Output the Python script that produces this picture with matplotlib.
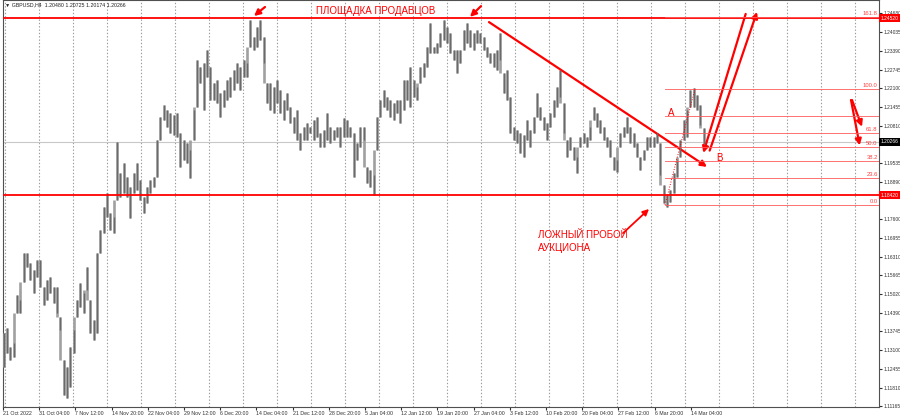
import numpy as np
import matplotlib.pyplot as plt
from matplotlib.transforms import blended_transform_factory

plt.rcParams['font.family'] = ['Liberation Sans', 'DejaVu Sans']

# H4 GBPUSD, high / low of each (grouped) bar
hi = [1.1369, 1.1386, 1.1320, 1.1334, 1.1499, 1.1482, 1.1644, 1.1644, 1.1609, 1.1585,
      1.1620, 1.1620, 1.1527, 1.1551, 1.1561, 1.1527, 1.1527, 1.1424, 1.1276, 1.1252,
      1.1320, 1.1379, 1.1482, 1.1541, 1.1506, 1.1596, 1.1482, 1.1413, 1.1644, 1.1723,
      1.1802, 1.1850, 1.1781, 1.1768, 1.2026, 1.1919, 1.1953, 1.1905, 1.1871, 1.1919,
      1.1953, 1.1895, 1.1836, 1.1871, 1.1895, 1.1905, 1.2032, 1.2112, 1.2153, 1.2135,
      1.2125, 1.2118, 1.2125, 1.2057, 1.2032, 1.2022, 1.1998, 1.2135, 1.2308, 1.2284,
      1.2297, 1.2342, 1.2284, 1.2228, 1.2239, 1.2194, 1.2204, 1.2239, 1.2249, 1.2273,
      1.2297, 1.2284, 1.2308, 1.2297, 1.2445, 1.2387, 1.2421, 1.2445, 1.2387, 1.2228,
      1.2228, 1.2215, 1.2239, 1.2204, 1.2170, 1.2194, 1.2146, 1.2112, 1.2135, 1.2057,
      1.2077, 1.2091, 1.2077, 1.2101, 1.2112, 1.2057, 1.2067, 1.2125, 1.2077, 1.2067,
      1.2077, 1.2077, 1.2108, 1.2101, 1.2077, 1.2057, 1.2022, 1.2077, 1.2077, 1.1940,
      1.1929, 1.1912, 1.2112, 1.2170, 1.2204, 1.2180, 1.2170, 1.2160, 1.2170, 1.2170,
      1.2239, 1.2239, 1.2284, 1.2239, 1.2215, 1.2284, 1.2297, 1.2352, 1.2435, 1.2352,
      1.2366, 1.2400, 1.2445, 1.2421, 1.2400, 1.2342, 1.2342, 1.2342, 1.2411, 1.2435,
      1.2411, 1.2400, 1.2411, 1.2400, 1.2387, 1.2352, 1.2332, 1.2332, 1.2342, 1.2400,
      1.2263, 1.2273, 1.2180, 1.2077, 1.2067, 1.2057, 1.2050, 1.2101, 1.2067, 1.2112,
      1.2194, 1.2146, 1.2112, 1.2091, 1.2125, 1.2170, 1.2215, 1.2273, 1.2160, 1.2032,
      1.2043, 1.2008, 1.1974, 1.2043, 1.2057, 1.2043, 1.2077, 1.2146, 1.2125, 1.2101,
      1.2077, 1.2043, 1.2032, 1.1974, 1.1963, 1.2057, 1.2077, 1.2112, 1.2077, 1.2057,
      1.2022, 1.1974, 1.1998, 1.2043, 1.2043, 1.2043, 1.2057, 1.2022, 1.1878, 1.1843,
      1.1860, 1.1919, 1.1963, 1.2032, 1.2101, 1.2135, 1.2204, 1.2211, 1.2187, 1.2153,
      1.2073]
lo = [1.1252, 1.1300, 1.1276, 1.1286, 1.1437, 1.1437, 1.1544, 1.1596, 1.1551, 1.1506,
      1.1561, 1.1527, 1.1465, 1.1482, 1.1506, 1.1472, 1.1437, 1.1379, 1.1155, 1.1145,
      1.1183, 1.1300, 1.1424, 1.1458, 1.1437, 1.1516, 1.1369, 1.1344, 1.1369, 1.1644,
      1.1713, 1.1768, 1.1723, 1.1713, 1.1826, 1.1836, 1.1850, 1.1836, 1.1764, 1.1850,
      1.1860, 1.1826, 1.1781, 1.1816, 1.1850, 1.1871, 1.1905, 1.2032, 1.2101, 1.2077,
      1.2057, 1.2050, 1.2043, 1.1940, 1.1963, 1.1953, 1.1902, 1.2032, 1.2146, 1.2228,
      1.2135, 1.2249, 1.2170, 1.2170, 1.2160, 1.2112, 1.2146, 1.2170, 1.2180, 1.2204,
      1.2228, 1.2204, 1.2249, 1.2249, 1.2352, 1.2342, 1.2352, 1.2376, 1.2297, 1.2160,
      1.2135, 1.2125, 1.2160, 1.2125, 1.2101, 1.2135, 1.2091, 1.2057, 1.2032, 1.1998,
      1.2032, 1.2032, 1.2057, 1.2032, 1.2043, 1.2008, 1.2008, 1.2032, 1.2022, 1.2032,
      1.2043, 1.2008, 1.2043, 1.2043, 1.2043, 1.1905, 1.1963, 1.2008, 1.2032, 1.1885,
      1.1871, 1.1843, 1.1998, 1.2112, 1.2146, 1.2135, 1.2112, 1.2101, 1.2125, 1.2091,
      1.2135, 1.2170, 1.2146, 1.2180, 1.2170, 1.2228, 1.2249, 1.2284, 1.2332, 1.2332,
      1.2332, 1.2352, 1.2376, 1.2366, 1.2332, 1.2308, 1.2263, 1.2297, 1.2342, 1.2366,
      1.2352, 1.2342, 1.2366, 1.2366, 1.2342, 1.2318, 1.2297, 1.2284, 1.2273, 1.2308,
      1.2194, 1.2170, 1.2057, 1.2032, 1.2022, 1.1988, 1.1974, 1.2032, 1.2008, 1.2057,
      1.2112, 1.2101, 1.2067, 1.2032, 1.2077, 1.2112, 1.2146, 1.2180, 1.2057, 1.1974,
      1.1998, 1.1963, 1.1919, 1.2008, 1.2022, 1.2008, 1.2032, 1.2101, 1.2077, 1.2057,
      1.2032, 1.2008, 1.1974, 1.1929, 1.1922, 1.2008, 1.2043, 1.2057, 1.2022, 1.2008,
      1.1974, 1.1929, 1.1963, 1.1998, 1.2008, 1.2008, 1.2022, 1.1912, 1.1816, 1.1802,
      1.1819, 1.1850, 1.1905, 1.1974, 1.2032, 1.2043, 1.2146, 1.2146, 1.2135, 1.2084,
      1.2017]

header = '\u25bc GBPUSD,H4  1.20480 1.20725 1.20174 1.20266'
last_price = 1.20266
seller_level = 1.2452
auction_level = 1.1842

fib_lo, fib_hi = 1.1809, 1.2208
fib_ratios = [0.0, 0.236, 0.382, 0.5, 0.618, 0.764, 1.0, 1.618]
fib_names = ['0.0', '23.6', '38.2', '50.0', '61.8', '', '100.0', '161.8']

date_labels = ['21 Oct 2022', '31 Oct 04:00', '7 Nov 12:00', '14 Nov 20:00', '22 Nov 04:00',
               '29 Nov 12:00', '6 Dec 20:00', '14 Dec 04:00', '21 Dec 12:00', '28 Dec 20:00',
               '5 Jan 04:00', '12 Jan 12:00', '19 Jan 20:00', '27 Jan 04:00', '3 Feb 12:00',
               '10 Feb 20:00', '20 Feb 04:00', '27 Feb 12:00', '6 Mar 20:00', '14 Mar 04:00']
price_ticks = [1.24680, 1.24035, 1.23390, 1.22745, 1.22100, 1.21455, 1.20810, 1.19535,
               1.18890, 1.17600, 1.16955, 1.16310, 1.15665, 1.15020, 1.14390, 1.13745,
               1.13100, 1.12455, 1.11810, 1.11165]

RED = '#ff0000'
W, H = 900, 419
fig = plt.figure(figsize=(W / 100, H / 100), dpi=100)
ax = fig.add_axes([3 / W, 12 / H, 876 / W, 407 / H])
ax.set_xlim(-0.2, 262.6)
ax.set_ylim(1.1114, 1.2514)

# grid
for gx in np.arange(0.4, 262, 10.2):
    ax.axvline(gx, color='#9a9a9a', lw=0.8, ls=(0, (1.2, 1.8)), zorder=1)

# bars
n = np.arange(len(hi))
h = np.array(hi)
l = np.array(lo)
top = np.maximum(h, np.append(l[1:], l[-1]))
bot = np.minimum(l, np.append(h[1:], h[-1]))
ax.vlines(n, bot, top, color='#a0a0a0', lw=1.9, zorder=3)
ax.vlines(n, l, h, color='#6a6a6a', lw=1.0, zorder=4)

# levels
ax.axhline(last_price, color='#c8c8c8', lw=0.8, zorder=2)
ax.axhline(seller_level, color=RED, lw=1.3, zorder=5)
ax.axhline(auction_level, color=RED, lw=1.3, zorder=5)

# fibonacci
x_fib0 = 198.4
for r, name in zip(fib_ratios, fib_names):
    p = fib_lo + r * (fib_hi - fib_lo)
    ax.plot([x_fib0, 262.6], [p, p], color='#ff5a5a', lw=0.6, zorder=5)
    if name:
        ax.text(262.2, p + 0.0003, name, color='#ff4040', fontsize=4.2,
                ha='right', va='bottom', zorder=6)
ax.plot([x_fib0, 207.4], [fib_lo, fib_hi], color=RED, lw=0.7, ls=':', zorder=6)

# annotations
arr = dict(arrowstyle='-|>', color=RED, lw=1.6, mutation_scale=9, shrinkA=0, shrinkB=0)
ax.annotate('', xy=(75.1, 1.2459), xytext=(78.4, 1.2490), arrowprops=arr)
ax.annotate('', xy=(139.9, 1.2456), xytext=(143.2, 1.2493), arrowprops=arr)
ax.annotate('', xy=(211.0, 1.1940), xytext=(145.6, 1.2438), arrowprops=arr)
ax.annotate('', xy=(193.6, 1.1795), xytext=(185.8, 1.1712),
            arrowprops=dict(arr, lw=1.3))
ax.annotate('', xy=(209.9, 1.1988), xytext=(222.6, 1.2466), arrowprops=arr)
ax.annotate('', xy=(226.0, 1.2473), xytext=(211.8, 1.1996), arrowprops=arr)
ax.annotate('', xy=(257.5, 1.2078), xytext=(254.5, 1.2170), arrowprops=arr)
ax.annotate('', xy=(256.8, 1.2014), xytext=(254.2, 1.2170), arrowprops=arr)

ax.text(93.7, 1.2476, 'ПЛОЩАДКА ПРОДАВЦОВ', color=RED, fontsize=7, va='center', zorder=7)
ax.text(160.3, 1.1722, 'ЛОЖНЫЙ ПРОБОЙ\nАУКЦИОНА', color=RED, fontsize=7,
        va='top', linespacing=1.35, zorder=7)
ax.text(199.3, 1.2125, 'A', color=RED, fontsize=7, ha='left', va='center', zorder=7)
ax.text(213.7, 1.1970, 'B', color=RED, fontsize=7, ha='left', va='center', zorder=7)

# axes styling
for s in ['left', 'right', 'top', 'bottom']:
    ax.spines[s].set_color('#505050')
    ax.spines[s].set_linewidth(0.8)
ax.yaxis.tick_right()
ax.set_yticks(price_ticks)
ax.set_yticklabels(['%.5f' % v for v in price_ticks])
ax.tick_params(axis='y', labelsize=3.5, length=2, pad=1, colors='#303030')
xt = -0.2 + 10.86 * np.arange(len(date_labels))
ax.set_xticks(xt)
ax.set_xticklabels(date_labels)
ax.tick_params(axis='x', labelsize=3.8, length=2, pad=1, colors='#303030')
for t in ax.get_xticklabels():
    t.set_horizontalalignment('left')

# price boxes on the scale
bt = blended_transform_factory(ax.transAxes, ax.transData)
for p, txt, fc in [(seller_level, '1.24520', RED), (auction_level, '1.18420', RED),
                   (last_price, '1.20266', 'black')]:
    ax.text(1.002, p, txt, transform=bt, color='white', fontsize=3.5, ha='left', va='center',
            bbox=dict(fc=fc, ec='none', pad=1.0), clip_on=False, zorder=8)

fig.text(5 / W, 1 - 5 / H, header, fontsize=3.8, va='center', color='#202020')

fig.savefig('out.png', dpi=100, facecolor='white')
